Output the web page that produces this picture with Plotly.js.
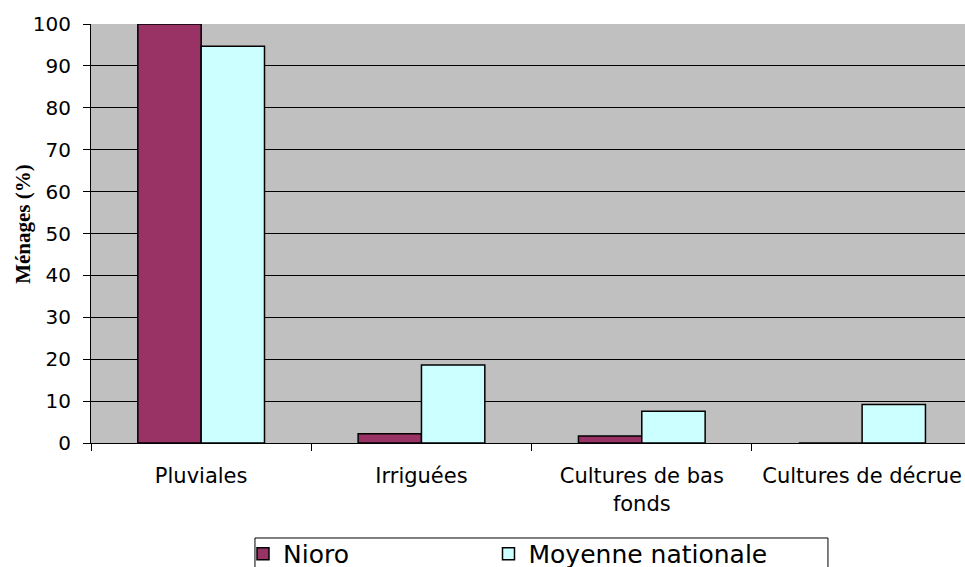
<!DOCTYPE html>
<html>
<head>
<meta charset="utf-8">
<script src="https://cdn.plot.ly/plotly-3.0.1.min.js"></script>
<style>
  html, body { margin: 0; padding: 0; background: #ffffff; }
  #chart { width: 965px; height: 567px; }
</style>
</head>
<body>
<div id="chart"></div>
<script>
// Types de cultures pratiquées : part des ménages (%)
const categories = ["Pluviales", "Irriguées", "Cultures de bas<br>fonds", "Cultures de décrue"];
const seriesNames = ["Nioro", "Moyenne nationale"];
const nioro = [100, 2.2, 1.7, 0];
const moyenneNationale = [94.7, 18.6, 7.6, 9.2];
const yTicks = [0, 10, 20, 30, 40, 50, 60, 70, 80, 90, 100];
const yTitle = "Ménages (%)";

const barLine = { color: "#000000", width: 1.5 };

const traces = [
  {
    type: "bar",
    name: seriesNames[0],
    x: categories,
    y: nioro,
    marker: { color: "#993366", line: barLine },
    cliponaxis: false,
    legend: "legend",
    hoverinfo: "x+y"
  },
  {
    type: "bar",
    name: seriesNames[1],
    x: categories,
    y: moyenneNationale,
    marker: { color: "#CCFFFF", line: barLine },
    cliponaxis: false,
    legend: "legend2",
    hoverinfo: "x+y"
  }
];

const sansFont = "DejaVu Sans, Arial, sans-serif";

// one legend entry per series, both sitting inside a single frame
function legendAt(x) {
  return {
    orientation: "h",
    x: x,
    xanchor: "left",
    y: -0.2100,
    yanchor: "top",
    bgcolor: "rgba(0,0,0,0)",
    borderwidth: 0,
    font: { family: sansFont, size: 25, color: "#000000" },
    itemwidth: 30
  };
}

const layout = {
  width: 965,
  height: 567,
  margin: { l: 91, r: 0, t: 24, b: 124, pad: 0, autoexpand: false },
  paper_bgcolor: "#ffffff",
  plot_bgcolor: "#C0C0C0",
  barmode: "group",
  bargap: 0.425,
  bargroupgap: 0,
  showlegend: true,
  xaxis: {
    type: "category",
    range: [-0.5, 3.467],
    tickson: "boundaries",
    ticks: "outside",
    ticklen: 7,
    tickwidth: 1,
    tickcolor: "#000000",
    tickangle: 0,
    ticklabelstandoff: 14,
    showline: true,
    linecolor: "#000000",
    linewidth: 1,
    showgrid: false,
    zeroline: false,
    tickfont: { family: sansFont, size: 21, color: "#000000" },
    fixedrange: true
  },
  yaxis: {
    range: [0, 100],
    tickvals: yTicks,
    ticktext: yTicks.map(String),
    ticks: "outside",
    ticklen: 7,
    tickwidth: 1,
    tickcolor: "#000000",
    ticklabelstandoff: 8,
    showline: true,
    linecolor: "#000000",
    linewidth: 1,
    showgrid: true,
    gridcolor: "#000000",
    gridwidth: 1,
    zeroline: false,
    tickfont: { family: sansFont, size: 20, color: "#000000" },
    fixedrange: true
  },
  annotations: [
    {
      text: yTitle,
      xref: "paper",
      yref: "paper",
      x: -0.0778,
      y: 0.523,
      xanchor: "center",
      yanchor: "middle",
      textangle: -90,
      showarrow: false,
      font: { family: "Liberation Serif, Times New Roman, serif", size: 21, color: "#000000", weight: "bold" }
    }
  ],
  // legend frame
  shapes: [
    {
      type: "rect",
      xref: "paper",
      yref: "paper",
      x0: 0.1876,
      x1: 0.8432,
      y0: -0.2267,
      y1: -0.32,
      line: { color: "#000000", width: 1 },
      fillcolor: "#ffffff",
      layer: "below"
    }
  ],
  legend: legendAt(0.1739),
  legend2: legendAt(0.4548)
};

Plotly.newPlot("chart", traces, layout, { displayModeBar: false, staticPlot: true });
</script>
</body>
</html>
